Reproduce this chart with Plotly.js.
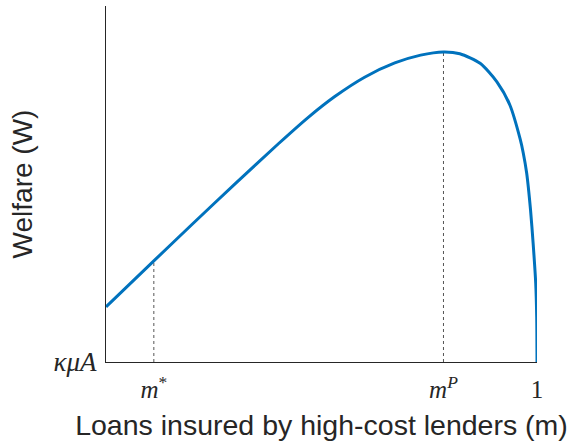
<!DOCTYPE html>
<html>
<head>
<meta charset="utf-8">
<script src="https://cdn.plot.ly/plotly-3.0.1.min.js"></script>
<style>html,body{margin:0;padding:0;background:#fff;}#chart{width:576px;height:441px;}</style>
</head>
<body>
<div id="chart"></div>
<script>
// Welfare curve (x: share of loans insured, y: welfare, 0 = κμA)
const loanShare = [0, 0.111, 0.2, 0.3, 0.4, 0.47, 0.53, 0.6, 0.67, 0.73, 0.783, 0.821, 0.868, 0.907, 0.937, 0.961, 0.968, 0.976, 0.985, 0.991, 0.997, 0.9993, 1.0];
const welfare   = [0.155, 0.284, 0.387, 0.501, 0.613, 0.688, 0.745, 0.800, 0.840, 0.862, 0.871, 0.866, 0.839, 0.787, 0.722, 0.626, 0.588, 0.531, 0.427, 0.334, 0.222, 0.126, 0.0];

// Marked points
const markX = [0.111, 0.783];
const markY = [0.284, 0.871];

// Tick labels
const xTickVals = [0.111, 0.783, 1];
const xTickText = ['<i>m</i><sup>*</sup>', '<i>m</i><sup><i>P</i></sup>', '1'];
const yTickVals = [0];
const yTickText = ['<i>κμA</i>'];

const traces = [];
markX.forEach((mx, i) => {
  traces.push({
    x: [mx, mx], y: [0, markY[i]],
    mode: 'lines', type: 'scatter',
    line: {color: '#555555', width: 1, dash: 'dot'},
    hoverinfo: 'skip', showlegend: false
  });
});
traces.push({
  x: loanShare, y: welfare,
  mode: 'lines', type: 'scatter',
  line: {color: '#0072BD', width: 3, shape: 'spline', smoothing: 0.7},
  cliponaxis: false, showlegend: false
});

const layout = {
  width: 576, height: 441,
  margin: {l: 106, r: 39, t: 6, b: 79},
  paper_bgcolor: '#ffffff', plot_bgcolor: '#ffffff',
  showlegend: false,
  xaxis: {
    range: [0, 1], showgrid: false, zeroline: false,
    showline: true, linecolor: '#262626', linewidth: 1,
    tickvals: xTickVals, ticktext: xTickText, ticks: '', ticklabelstandoff: 5,
    tickfont: {family: 'Liberation Serif, DejaVu Serif, serif', size: 25, color: '#262626'},
    title: {text: 'Loans insured by high-cost lenders (m)', font: {family: 'Liberation Sans, Arial, sans-serif', size: 28.5, color: '#262626'}, standoff: 18}
  },
  yaxis: {
    range: [0, 1], showgrid: false, zeroline: false,
    showline: true, linecolor: '#262626', linewidth: 1,
    tickvals: yTickVals, ticktext: yTickText, ticks: '', ticklabelstandoff: 3,
    tickfont: {family: 'Liberation Serif, DejaVu Serif, serif', size: 27, color: '#262626'},
    title: {text: 'Welfare (W)', font: {family: 'Liberation Sans, Arial, sans-serif', size: 28, color: '#262626'}, standoff: 12}
  }
};

Plotly.newPlot('chart', traces, layout, {displayModeBar: false, staticPlot: true});
</script>
</body>
</html>
